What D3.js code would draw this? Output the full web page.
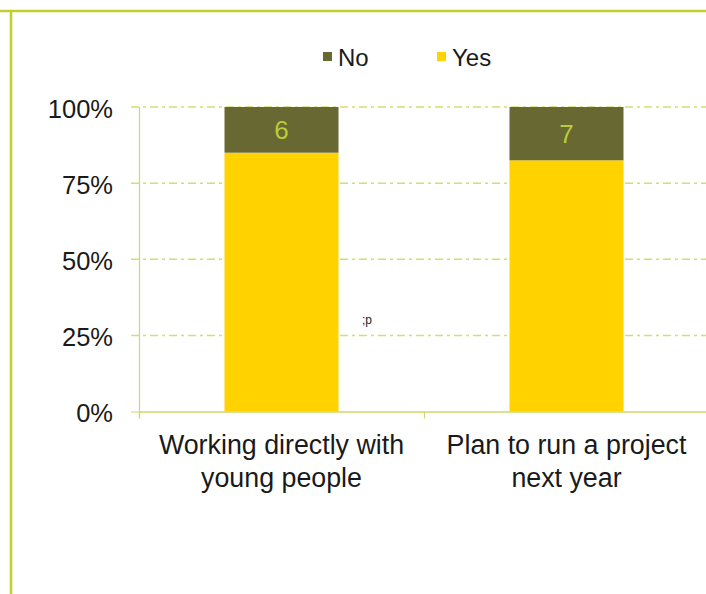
<!DOCTYPE html>
<html>
<head>
<meta charset="utf-8">
<script src="https://cdn.jsdelivr.net/npm/d3@7"></script>
<style>
  html, body { margin: 0; padding: 0; background: #ffffff; }
  svg { display: block; font-family: "Liberation Sans", Arial, sans-serif; }
</style>
</head>
<body>
<svg id="chart" width="706" height="594"></svg>
<script>
// ---- data ----
const categories = ["Working directly with young people", "Plan to run a project next year"];
const categoryLines = [["Working directly with", "young people"], ["Plan to run a project", "next year"]];
const seriesNames = ["No", "Yes"];
const yesCounts = [34, 33];
const noCounts = [6, 7];
const yTicks = [0, 0.25, 0.5, 0.75, 1];

(function () {
// ---- colours ----
const colYes = "#ffd200";
const colNo = "#686832";
const colFrame = "#c2cf2a";
const colGrid = "#d4de72";
const colAxis = "#cfd86a";
const colLabel = "#b9cc3a";

const svg = d3.select("#chart");

// frame lines
svg.append("line").attr("x1", 0).attr("x2", 706).attr("y1", 11).attr("y2", 11)
  .attr("stroke", colFrame).attr("stroke-width", 2.5);
svg.append("line").attr("x1", 11).attr("x2", 11).attr("y1", 10).attr("y2", 594)
  .attr("stroke", colFrame).attr("stroke-width", 2.5);

const pLeft = 139, pRight = 709, pTop = 107, pBottom = 411.5;

const x = d3.scaleBand().domain(categories).range([pLeft, pRight])
  .paddingInner(0.6).paddingOuter(0.3);
const y = d3.scaleLinear().domain([0, 1]).range([pBottom, pTop]);

// stacked data (percent)
const rows = categories.map((c, i) => {
  const total = yesCounts[i] + noCounts[i];
  return { cat: c, Yes: yesCounts[i] / total, No: noCounts[i] / total, noCount: noCounts[i] };
});
const stack = d3.stack().keys(["Yes", "No"])(rows);

// gridlines
svg.append("g").selectAll("line").data(yTicks.filter(d => d > 0)).join("line")
  .attr("x1", 131).attr("x2", 706)
  .attr("y1", d => y(d)).attr("y2", d => y(d))
  .attr("stroke", colGrid).attr("stroke-width", 1.5)
  .attr("stroke-dasharray", "8,4,3,4");

// y axis
const yAxis = svg.append("g").attr("transform", `translate(${pLeft},0)`)
  .call(d3.axisLeft(y).tickValues(yTicks).tickFormat(d3.format(".0%")).tickSize(8).tickPadding(18));
yAxis.select(".domain").attr("stroke", colAxis).attr("stroke-width", 1.2)
  .attr("d", `M0.5,${pTop}V${pBottom + 7}`);
yAxis.selectAll(".tick line").attr("stroke", d => d === 0 ? colAxis : "none");
yAxis.selectAll(".tick text").attr("fill", "#1a1a1a")
  .style("font-size", "25.5px").style("font-family", "'Liberation Sans', Arial, sans-serif")
  .attr("dy", "0.4em");

// x axis line
const xAxis = svg.append("g").attr("transform", `translate(0,${pBottom})`)
  .call(d3.axisBottom(x).tickSize(0).tickFormat(""));
xAxis.select(".domain").attr("stroke", colAxis).attr("stroke-width", 1.5)
  .attr("d", `M${pLeft},0.5H706`);
// category boundary ticks
const bounds = categories.map((c, i) => i === 0 ? pLeft : x(c) - x.step() * x.paddingInner() / 2);
svg.append("g").selectAll("line").data(bounds).join("line")
  .attr("x1", d => d + 0.5).attr("x2", d => d + 0.5)
  .attr("y1", pBottom).attr("y2", pBottom + 7)
  .attr("stroke", colAxis).attr("stroke-width", 1.2);

// bars
const colors = { Yes: colYes, No: colNo };
svg.append("g").selectAll("g").data(stack).join("g")
  .attr("fill", d => colors[d.key])
  .selectAll("rect").data(d => d).join("rect")
  .attr("x", d => x(d.data.cat))
  .attr("width", x.bandwidth())
  .attr("y", d => y(d[1]))
  .attr("height", d => y(d[0]) - y(d[1]));

// data labels for "No"
const noLayer = stack.find(s => s.key === "No");
svg.append("g").selectAll("text").data(noLayer).join("text")
  .attr("x", d => x(d.data.cat) + x.bandwidth() / 2)
  .attr("y", d => (y(d[0]) + y(d[1])) / 2)
  .attr("dy", "0.36em")
  .attr("text-anchor", "middle")
  .attr("fill", colLabel)
  .style("font-size", "26px")
  .text(d => d.data.noCount);

// category labels
const catG = svg.append("g");
categories.forEach((c, i) => {
  const t = catG.append("text")
    .attr("x", x(c) + x.bandwidth() / 2)
    .attr("y", 454)
    .attr("text-anchor", "middle")
    .attr("fill", "#1a1a1a")
    .style("font-size", "26.8px");
  categoryLines[i].forEach((ln, j) => {
    t.append("tspan").attr("x", x(c) + x.bandwidth() / 2).attr("dy", j === 0 ? 0 : 33).text(ln);
  });
});

// legend
const legendX = [323, 437];
const legendColors = [colNo, colYes];
const lg = svg.append("g").selectAll("g").data(seriesNames).join("g")
  .attr("transform", (d, i) => `translate(${legendX[i]},52)`);
lg.append("rect").attr("width", 9).attr("height", 9).attr("fill", (d, i) => legendColors[i]);
lg.append("text").attr("x", 15).attr("y", 13.5).attr("fill", "#1a1a1a")
  .style("font-size", "24px").text(d => d);

// stray text in the source
svg.append("text").attr("x", 362).attr("y", 324).attr("fill", "#222")
  .style("font-size", "12px").text(";p");
})();
</script>
</body>
</html>
